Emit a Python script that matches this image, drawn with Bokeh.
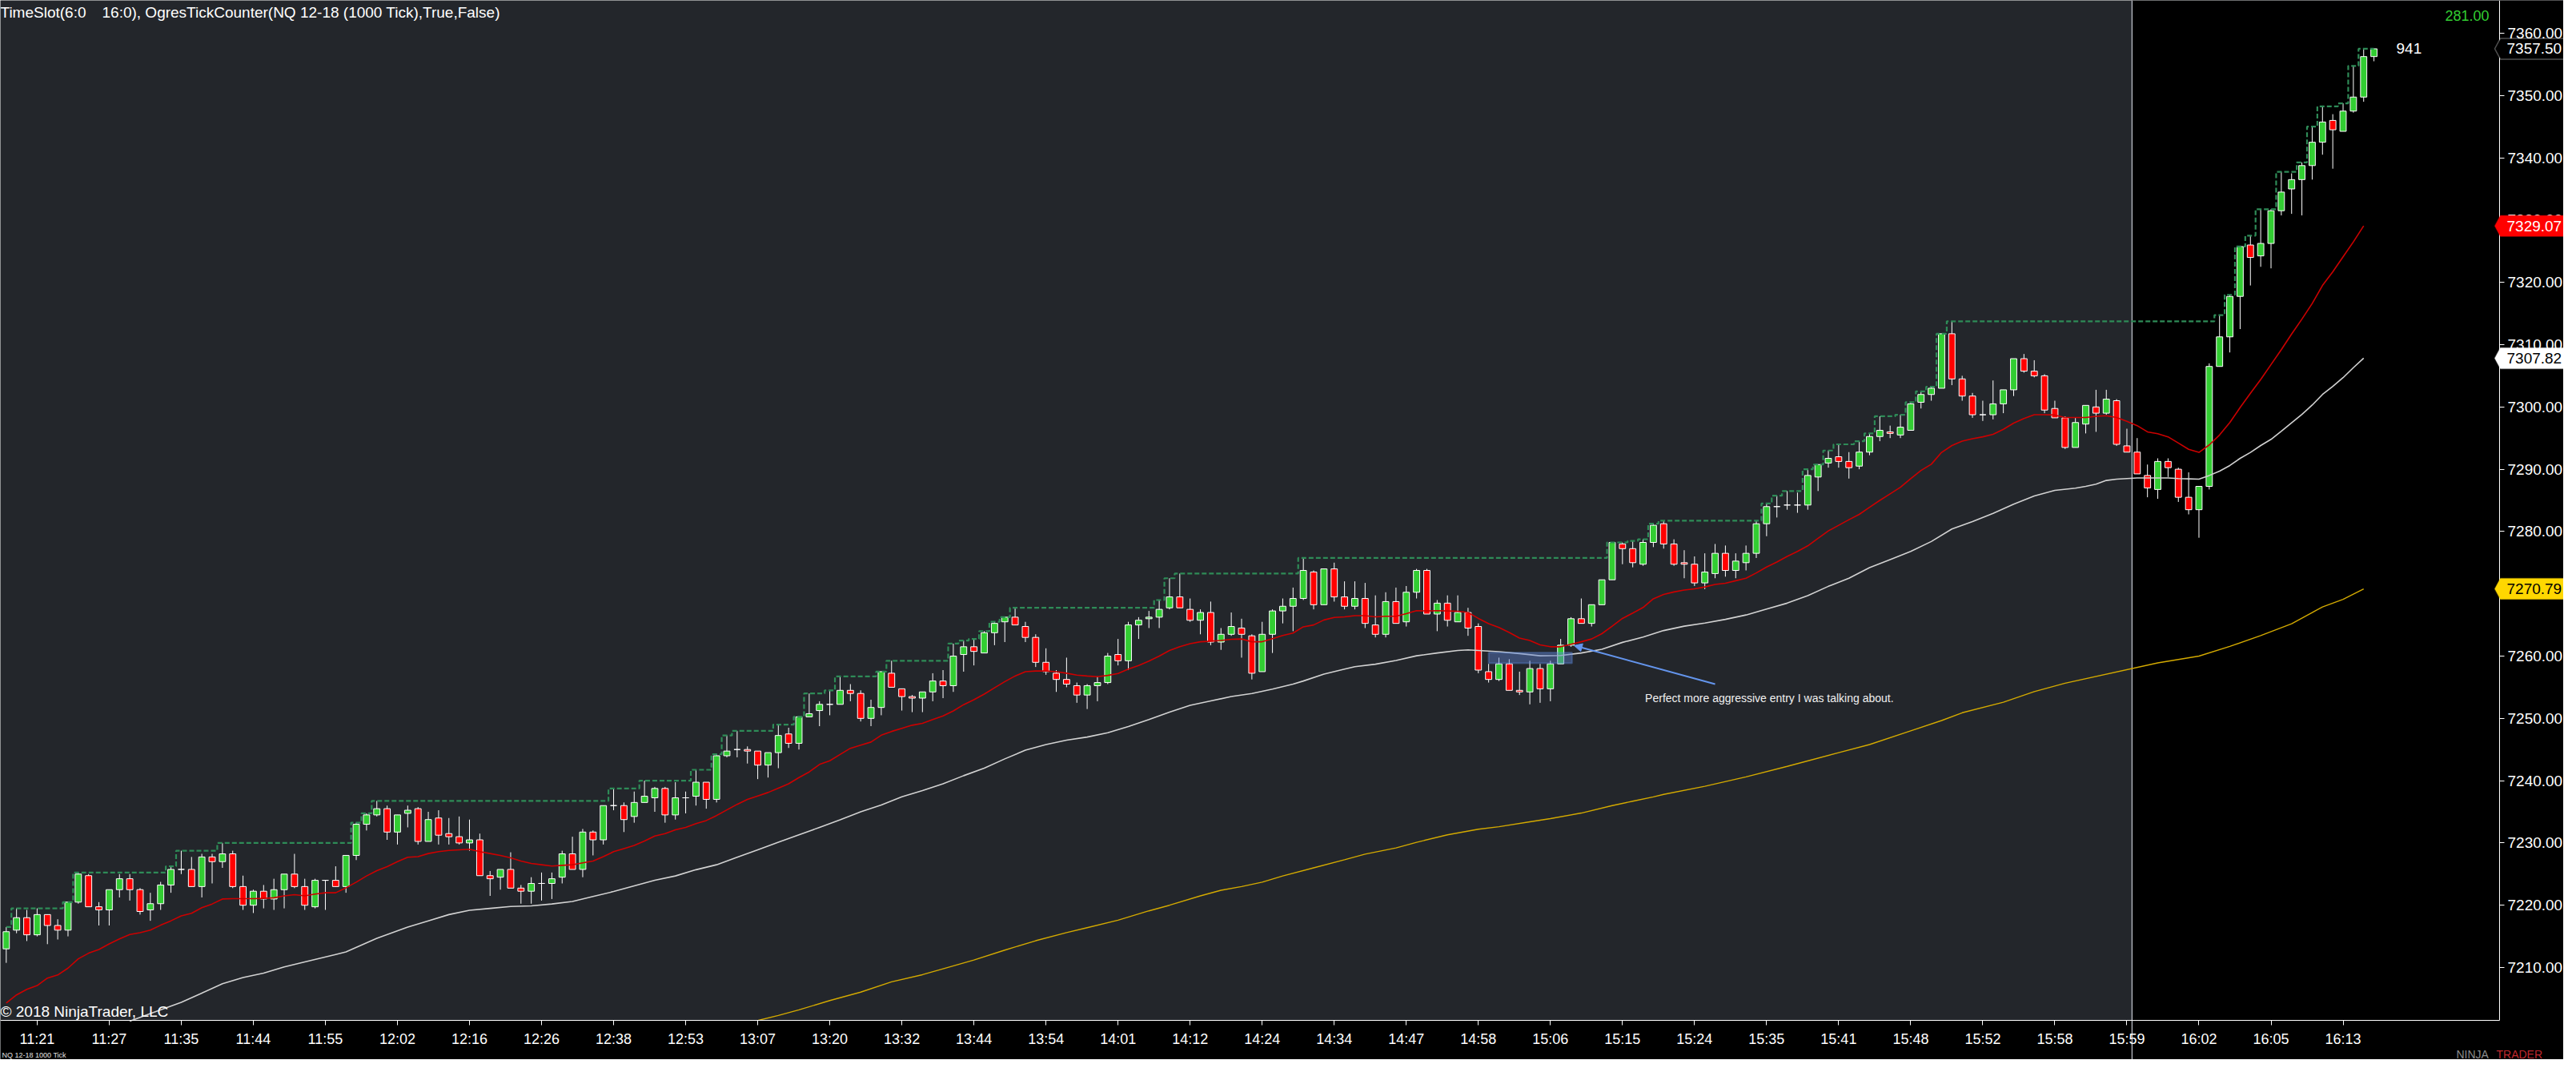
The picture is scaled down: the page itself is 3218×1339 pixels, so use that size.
import numpy as np
from bokeh.plotting import figure
from bokeh.models import (Range1d, FixedTicker, SingleIntervalTicker, NumeralTickFormatter,
                          BoxAnnotation, Label, Arrow, NormalHead, Span, PolyAnnotation,
                          ColumnDataSource)
from bokeh.embed import file_html
from bokeh.resources import INLINE

# ---------------- data (NQ 12-18, 1000 tick bars) ----------------
open_ = [
    7213.0, 7216.0, 7218.0, 7215.25, 7218.5, 7216.75, 7216.0, 7220.5, 7224.75, 7219.75,
    7219.25, 7222.5, 7224.25, 7222.5, 7219.25, 7220.25, 7223.25, 7225.75, 7225.75, 7223.0,
    7227.75, 7227.0, 7228.25, 7223.0, 7220.0, 7222.25, 7221.0, 7222.5, 7225.0, 7223.0,
    7219.75, 7224.0, 7224.0, 7223.0, 7228.0, 7233.0, 7234.5, 7235.5, 7231.75, 7234.75,
    7235.5, 7230.25, 7234.0, 7231.5, 7231.0, 7230.0, 7230.5, 7224.75, 7224.5, 7225.75,
    7222.75, 7222.25, 7223.5, 7223.5, 7224.5, 7228.25, 7225.75, 7231.75, 7230.5, 7236.0,
    7236.0, 7234.25, 7236.5, 7237.25, 7238.75, 7234.5, 7237.25, 7237.5, 7239.75, 7237.0,
    7244.0, 7245.0, 7245.0, 7244.75, 7242.5, 7244.5, 7247.5, 7246.0, 7250.25, 7251.25,
    7252.25, 7252.25, 7254.5, 7254.0, 7250.0, 7251.75, 7257.25, 7254.75, 7253.5, 7253.25,
    7254.25, 7256.0, 7255.25, 7260.25, 7261.5, 7260.5, 7263.75, 7265.5, 7266.25, 7264.75,
    7263.0, 7259.0, 7257.25, 7256.25, 7255.25, 7253.75, 7255.25, 7255.75, 7260.25, 7259.25,
    7265.0, 7266.0, 7266.25, 7267.75, 7269.5, 7267.5, 7265.75, 7267.0, 7262.25, 7263.5,
    7264.5, 7263.25, 7257.5, 7263.5, 7267.25, 7268.0, 7269.25, 7273.5, 7268.25, 7274.0,
    7269.5, 7268.0, 7269.25, 7265.0, 7263.5, 7268.75, 7265.5, 7270.25, 7273.75, 7266.75,
    7268.5, 7265.5, 7267.0, 7264.75, 7257.5, 7256.25, 7258.75, 7254.5, 7254.25, 7258.0,
    7254.75, 7258.75, 7261.75, 7266.0, 7265.25, 7268.25, 7272.25, 7278.0, 7277.25, 7274.75,
    7278.25, 7281.25, 7278.0, 7275.0, 7274.75, 7271.75, 7273.25, 7276.5, 7273.75, 7275.0,
    7276.5, 7281.25, 7284.0, 7284.25, 7284.25, 7284.25, 7288.75, 7291.0, 7292.0, 7291.25,
    7290.5, 7292.75, 7295.25, 7296.0, 7295.5, 7296.25, 7300.75, 7302.0, 7303.0, 7311.75,
    7304.5, 7301.75, 7298.75, 7298.75, 7300.5, 7302.75, 7307.75, 7305.75, 7305.0, 7299.75,
    7298.25, 7293.5, 7297.25, 7300.0, 7299.0, 7301.0, 7293.75, 7292.75, 7289.0, 7286.75,
    7291.25, 7290.0, 7285.5, 7283.5, 7287.25, 7306.5, 7311.25, 7317.75, 7326.0, 7324.25,
    7326.25, 7331.5, 7335.0, 7336.5, 7338.75, 7342.5, 7346.0, 7344.25, 7347.5, 7349.75, 7356.25,
]
high_ = [
    7216.5, 7219.5, 7219.25, 7219.5, 7218.5, 7217.75, 7220.5, 7225.25, 7225.0, 7220.5,
    7222.5, 7225.0, 7225.0, 7222.75, 7222.0, 7223.75, 7226.25, 7228.75, 7227.75, 7228.25,
    7228.25, 7230.0, 7228.75, 7224.75, 7222.5, 7223.25, 7224.25, 7225.0, 7228.25, 7224.25,
    7224.25, 7224.0, 7226.25, 7228.0, 7233.25, 7234.75, 7236.75, 7236.0, 7234.5, 7236.0,
    7235.75, 7235.0, 7235.25, 7234.0, 7234.25, 7233.75, 7231.5, 7225.5, 7225.75, 7228.5,
    7223.25, 7224.5, 7225.25, 7225.25, 7228.75, 7231.0, 7232.25, 7232.0, 7236.0, 7238.75,
    7236.5, 7238.25, 7240.0, 7239.0, 7239.0, 7239.75, 7238.25, 7241.75, 7239.75, 7244.25,
    7247.25, 7248.0, 7245.5, 7244.75, 7244.5, 7249.0, 7248.5, 7250.25, 7254.0, 7252.75,
    7254.5, 7256.75, 7255.5, 7254.5, 7253.0, 7257.5, 7259.25, 7254.75, 7253.75, 7254.25,
    7257.25, 7257.75, 7262.0, 7262.5, 7262.75, 7264.0, 7265.5, 7266.25, 7267.75, 7265.5,
    7263.5, 7261.25, 7257.75, 7259.75, 7255.75, 7255.5, 7256.75, 7260.5, 7262.75, 7265.5,
    7266.25, 7267.25, 7269.0, 7272.5, 7273.25, 7269.25, 7267.5, 7268.75, 7264.5, 7267.0,
    7266.0, 7263.5, 7265.5, 7267.5, 7269.25, 7271.0, 7275.75, 7273.75, 7274.0, 7275.0,
    7272.0, 7272.0, 7271.75, 7269.75, 7270.25, 7271.0, 7271.25, 7274.0, 7274.0, 7269.0,
    7269.75, 7269.75, 7267.75, 7265.25, 7258.75, 7259.75, 7259.5, 7257.5, 7259.25, 7258.75,
    7259.25, 7262.75, 7266.25, 7269.25, 7268.25, 7272.25, 7278.25, 7278.25, 7278.5, 7278.75,
    7281.25, 7281.75, 7278.75, 7277.0, 7276.0, 7276.5, 7278.0, 7277.75, 7276.5, 7277.75,
    7281.75, 7284.5, 7285.75, 7286.5, 7286.25, 7290.0, 7290.75, 7293.0, 7294.0, 7292.75,
    7294.5, 7295.75, 7298.5, 7297.0, 7298.75, 7300.75, 7302.5, 7303.25, 7311.75, 7313.75,
    7305.0, 7302.25, 7301.0, 7304.25, 7302.75, 7307.75, 7308.5, 7307.5, 7305.25, 7301.0,
    7298.5, 7298.25, 7300.25, 7302.75, 7302.75, 7301.25, 7296.5, 7295.0, 7290.75, 7291.75,
    7291.75, 7290.25, 7289.5, 7287.25, 7307.0, 7314.75, 7318.0, 7325.75, 7327.5, 7331.75,
    7331.75, 7337.75, 7337.5, 7339.25, 7345.0, 7348.25, 7347.0, 7348.75, 7354.75, 7357.5, 7357.5,
]
low_ = [
    7210.75, 7215.5, 7214.25, 7215.0, 7213.75, 7214.5, 7215.0, 7220.25, 7219.75, 7216.75,
    7216.75, 7221.25, 7220.75, 7218.5, 7217.5, 7219.25, 7222.0, 7225.0, 7223.0, 7221.25,
    7223.5, 7226.0, 7222.75, 7219.25, 7218.75, 7219.5, 7219.25, 7219.5, 7222.75, 7219.25,
    7219.5, 7219.25, 7223.0, 7222.0, 7227.25, 7232.0, 7234.25, 7230.5, 7229.75, 7232.5,
    7229.75, 7230.25, 7229.75, 7229.75, 7229.75, 7228.75, 7224.75, 7221.5, 7222.5, 7222.75,
    7220.25, 7220.25, 7220.75, 7221.0, 7223.5, 7225.75, 7224.5, 7228.0, 7229.75, 7235.25,
    7231.75, 7233.25, 7236.5, 7235.0, 7233.25, 7233.75, 7234.75, 7236.0, 7235.5, 7236.5,
    7243.75, 7243.75, 7242.75, 7240.25, 7240.5, 7242.0, 7245.25, 7245.0, 7250.25, 7248.75,
    7250.5, 7252.25, 7252.75, 7249.5, 7248.75, 7250.5, 7255.0, 7251.25, 7251.0, 7251.0,
    7252.75, 7253.25, 7254.25, 7257.5, 7258.5, 7260.5, 7261.75, 7262.25, 7265.0, 7262.25,
    7258.25, 7257.0, 7254.25, 7255.0, 7252.5, 7251.5, 7252.75, 7255.5, 7258.5, 7257.75,
    7262.75, 7264.5, 7264.5, 7267.5, 7267.75, 7265.5, 7263.5, 7261.75, 7261.0, 7263.25,
    7259.75, 7256.25, 7257.5, 7260.5, 7265.25, 7264.0, 7269.0, 7267.5, 7268.25, 7268.75,
    7267.5, 7267.5, 7264.5, 7263.0, 7263.0, 7265.25, 7264.75, 7269.25, 7266.75, 7264.0,
    7264.75, 7265.5, 7263.25, 7257.25, 7255.75, 7256.0, 7254.5, 7253.75, 7252.25, 7252.5,
    7252.75, 7258.75, 7261.5, 7265.25, 7264.75, 7268.25, 7272.25, 7274.75, 7274.25, 7274.5,
    7277.5, 7277.25, 7274.5, 7272.5, 7271.25, 7270.75, 7272.5, 7272.75, 7272.5, 7273.75,
    7275.75, 7279.25, 7282.25, 7283.5, 7283.0, 7283.5, 7286.5, 7290.25, 7290.25, 7288.5,
    7290.0, 7292.25, 7294.5, 7295.0, 7295.0, 7296.25, 7299.75, 7301.0, 7303.0, 7303.5,
    7301.0, 7298.25, 7297.75, 7298.0, 7299.0, 7301.75, 7305.5, 7304.75, 7299.0, 7298.25,
    7293.25, 7293.5, 7295.75, 7296.0, 7298.75, 7293.75, 7292.75, 7289.25, 7285.5, 7285.25,
    7288.75, 7284.75, 7282.75, 7279.0, 7286.75, 7306.5, 7308.75, 7312.5, 7319.5, 7322.5,
    7322.25, 7330.75, 7331.0, 7330.75, 7336.5, 7340.5, 7338.25, 7344.25, 7347.25, 7349.0, 7355.5,
]
close_ = [
    7215.75, 7218.0, 7215.25, 7218.5, 7216.75, 7216.0, 7220.5, 7225.0, 7219.75, 7219.25,
    7222.5, 7224.25, 7222.5, 7219.0, 7220.25, 7223.25, 7225.75, 7225.75, 7223.0, 7227.75,
    7227.0, 7228.25, 7223.0, 7220.0, 7222.25, 7221.0, 7222.5, 7225.0, 7223.0, 7220.0,
    7224.0, 7224.0, 7223.0, 7228.0, 7233.0, 7234.5, 7235.5, 7231.75, 7234.5, 7235.25,
    7230.25, 7233.75, 7231.25, 7231.0, 7230.0, 7230.5, 7224.75, 7224.25, 7225.75, 7222.75,
    7222.25, 7223.5, 7223.5, 7224.25, 7228.25, 7225.75, 7231.75, 7230.5, 7236.0, 7236.0,
    7233.75, 7236.5, 7237.5, 7238.75, 7234.5, 7237.25, 7237.25, 7239.75, 7237.0, 7244.0,
    7244.75, 7245.0, 7244.75, 7242.5, 7244.5, 7247.25, 7246.0, 7250.25, 7250.75, 7252.25,
    7252.25, 7254.5, 7254.0, 7250.0, 7251.75, 7257.5, 7255.0, 7253.5, 7253.25, 7254.25,
    7256.0, 7255.25, 7260.0, 7261.5, 7260.75, 7263.75, 7265.25, 7266.25, 7265.0, 7263.0,
    7259.0, 7257.5, 7256.25, 7255.5, 7253.75, 7255.25, 7255.75, 7260.0, 7259.25, 7265.0,
    7265.75, 7266.25, 7267.5, 7269.5, 7267.75, 7265.75, 7267.0, 7262.25, 7263.5, 7264.75,
    7263.5, 7257.25, 7263.5, 7267.25, 7268.0, 7269.25, 7273.75, 7268.25, 7274.0, 7269.5,
    7268.0, 7269.25, 7265.25, 7263.5, 7268.75, 7265.25, 7270.25, 7273.75, 7266.75, 7268.5,
    7265.75, 7267.0, 7264.5, 7257.75, 7256.25, 7258.75, 7254.5, 7254.25, 7258.0, 7254.75,
    7258.75, 7261.75, 7266.0, 7265.25, 7268.25, 7272.25, 7278.25, 7277.25, 7275.0, 7278.25,
    7281.0, 7278.0, 7274.75, 7274.75, 7271.75, 7273.5, 7276.5, 7273.75, 7275.25, 7276.5,
    7281.25, 7284.0, 7284.0, 7284.25, 7284.25, 7289.0, 7290.75, 7291.75, 7291.25, 7290.25,
    7292.75, 7295.25, 7296.25, 7295.75, 7296.75, 7300.5, 7302.0, 7303.0, 7311.75, 7304.5,
    7301.75, 7298.75, 7298.75, 7300.5, 7302.75, 7307.75, 7305.75, 7305.0, 7299.5, 7298.25,
    7293.5, 7297.5, 7300.25, 7299.0, 7301.25, 7294.0, 7292.75, 7289.25, 7287.0, 7291.25,
    7290.25, 7285.5, 7283.5, 7287.25, 7306.5, 7311.25, 7317.75, 7325.75, 7324.0, 7326.25,
    7331.5, 7334.5, 7336.5, 7338.75, 7342.5, 7345.75, 7344.5, 7347.5, 7349.75, 7356.25, 7357.5,
]

# fast moving average (red), one value per bar 0..229
red_ma = [
    7204.3, 7205.6, 7206.5, 7207.1, 7208.3, 7208.8, 7209.9, 7211.4, 7212.3, 7212.9,
    7213.8, 7214.6, 7215.3, 7215.6, 7216.0, 7216.8, 7217.5, 7218.3, 7218.7, 7219.6,
    7220.2, 7221.0, 7221.05, 7221.05, 7221.05, 7221.1, 7221.2, 7221.5, 7221.7, 7221.5,
    7221.8, 7222.0, 7222.0, 7222.8, 7223.7, 7224.7, 7225.55, 7226.2, 7227.0, 7227.7,
    7227.8, 7228.3, 7228.6, 7228.8, 7228.9, 7229.0, 7228.6, 7228.3, 7228.0, 7227.6,
    7227.1, 7226.7, 7226.5, 7226.3, 7226.4, 7226.5, 7226.8, 7227.1, 7227.8, 7228.6,
    7229.1, 7229.6, 7230.3, 7231.1, 7231.5, 7232.1, 7232.5, 7233.1, 7233.6, 7234.4,
    7235.3, 7236.2, 7237.0, 7237.55, 7238.1, 7238.8, 7239.5, 7240.5, 7241.4, 7242.6,
    7243.2, 7244.2, 7245.2, 7245.7, 7246.2, 7247.3, 7247.9, 7248.4, 7248.9, 7249.2,
    7249.8, 7250.4, 7251.2, 7252.2, 7253.0, 7253.9, 7254.9, 7255.9, 7256.8, 7257.5,
    7257.6, 7257.6, 7257.5, 7257.25, 7256.95, 7256.8, 7256.7, 7256.9, 7257.2, 7257.9,
    7258.5, 7259.2, 7260.0, 7260.9, 7261.5, 7262.0, 7262.3, 7262.4, 7262.5, 7262.7,
    7262.75, 7262.3, 7262.3, 7262.8, 7263.3, 7263.7, 7264.7, 7265.0, 7265.8, 7266.2,
    7266.3, 7266.5, 7266.5, 7266.3, 7266.4, 7266.4, 7266.8, 7267.3, 7267.25, 7267.3,
    7267.25, 7267.2, 7267.0, 7266.05, 7265.2, 7264.6, 7263.8, 7262.9, 7262.5, 7261.8,
    7261.5, 7261.5, 7261.9, 7262.3, 7262.75, 7263.6, 7264.8, 7266.05, 7266.9, 7267.8,
    7269.2, 7269.9, 7270.3, 7270.6, 7270.8, 7271.1, 7271.5, 7271.7, 7272.1, 7272.5,
    7273.35, 7274.3, 7275.1, 7276.0, 7276.8, 7277.7, 7278.9, 7280.1, 7281.0, 7281.9,
    7282.75, 7283.9, 7285.0, 7286.05, 7287.1, 7288.5, 7289.8, 7290.8, 7292.7, 7293.8,
    7294.5, 7294.9, 7295.2, 7295.6, 7296.4, 7297.4, 7298.15, 7298.75, 7298.75, 7298.7,
    7298.3, 7298.3, 7298.3, 7298.5, 7298.6, 7298.3, 7297.7, 7297.0, 7296.0, 7295.7,
    7295.2, 7294.2, 7293.2, 7292.7, 7293.9, 7295.5, 7297.5, 7299.9, 7302.2, 7304.4,
    7306.8, 7309.2, 7311.7, 7314.1, 7316.6, 7319.5, 7321.7, 7324.1, 7326.5, 7329.07,
]

# medium moving average (white), read at these bars
white_bar = [12, 13, 14, 17, 19, 21, 23, 25, 27, 29, 32, 33, 36, 39, 41, 43, 45, 47, 49,
             51, 53, 55, 57, 59, 61, 63, 65, 67, 69, 71, 73, 75, 77, 79, 81, 83, 85, 87, 89,
             91, 93, 95, 97, 99, 101, 103, 105, 107, 109, 111, 113, 115, 117, 119, 121, 123,
             125, 126, 128, 130, 131, 133, 135, 137, 139, 141, 142, 143, 145, 147, 149, 151,
             153, 155, 157, 159, 161, 163, 165, 167, 169, 171, 173, 175, 177, 179, 181, 183,
             185, 187, 189, 191, 193, 195, 197, 199, 201, 202, 203, 204, 205, 206, 207, 208,
             209, 210, 211, 212, 213, 214, 215, 216, 217, 218, 219, 220, 221, 222, 223, 224,
             225, 226, 227, 228, 229]
white_ma = [7201.4, 7202.0, 7202.6, 7204.4, 7205.9, 7207.4, 7208.4, 7209.1, 7210.1, 7210.9,
            7212.1, 7212.5, 7214.7, 7216.5, 7217.5, 7218.5, 7219.2, 7219.5, 7219.8,
            7219.9, 7220.2, 7220.6, 7221.4, 7222.2, 7223.1, 7224.0, 7224.7, 7225.7, 7226.5,
            7227.7, 7228.9, 7230.1, 7231.3, 7232.5, 7233.7, 7235.0, 7236.1, 7237.4, 7238.4,
            7239.5, 7240.8, 7242.0, 7243.5, 7244.9, 7245.8, 7246.5, 7247.0, 7247.7, 7248.7,
            7249.8, 7251.0, 7252.1, 7252.8, 7253.5, 7254.0, 7254.7,
            7255.5, 7256.0, 7257.1, 7257.9, 7258.3, 7258.7, 7259.3, 7260.05, 7260.5, 7260.9,
            7261.0, 7260.9, 7260.7, 7260.4, 7260.05, 7260.1,
            7260.5, 7261.1, 7262.2, 7263.05, 7264.1, 7264.8, 7265.3, 7265.9, 7266.6, 7267.55,
            7268.5, 7269.7, 7271.2, 7272.5, 7274.2, 7275.5,
            7276.8, 7278.4, 7280.4, 7281.6, 7282.9, 7284.4, 7285.7, 7286.6, 7286.95, 7287.25,
            7287.6, 7288.2, 7288.4, 7288.5, 7288.6, 7288.6,
            7288.6, 7288.6, 7288.5, 7288.45, 7288.4, 7289.0, 7289.7, 7290.6, 7291.75, 7292.7,
            7293.8, 7294.8, 7296.1, 7297.45, 7298.8, 7300.3,
            7302.0, 7303.3, 7304.7, 7306.3, 7307.82]

# slow moving average (gold), read at these bars
gold_bar = [73, 75, 77, 80, 83, 86, 89, 91, 94, 97, 100, 103, 105, 108, 111, 113, 116, 118,
            120, 122, 124, 127, 130, 132, 135, 137, 140, 143, 145, 148, 150, 153, 156, 158,
            160, 161, 165, 169, 173, 178, 181, 185, 188, 190, 194, 197, 200, 209, 213, 216,
            219, 222, 224, 225, 227, 229]
gold_ma = [7201.5, 7202.3, 7203.2, 7204.7, 7206.05, 7207.7, 7208.85, 7209.8, 7211.2, 7212.8,
           7214.3, 7215.6, 7216.4, 7217.6, 7219.1, 7220.0, 7221.5, 7222.4,
           7223.0, 7223.7, 7224.7, 7226.0, 7227.3, 7228.2, 7229.2, 7230.1, 7231.3, 7232.2,
           7232.6, 7233.4, 7233.9, 7234.8, 7236.0, 7236.7,
           7237.4, 7237.8, 7239.1, 7240.6, 7242.3, 7244.5, 7245.8, 7248.0, 7249.65, 7250.9,
           7252.6, 7254.3, 7255.65, 7258.9, 7260.0, 7261.55,
           7263.3, 7265.2, 7267.0, 7267.9, 7269.1, 7270.79]

time_labels = ["11:21", "11:27", "11:35", "11:44", "11:55", "12:02", "12:16", "12:26",
               "12:38", "12:53", "13:07", "13:20", "13:32", "13:44", "13:54", "14:01",
               "14:12", "14:24", "14:34", "14:47", "14:58", "15:06", "15:15", "15:24",
               "15:35", "15:41", "15:48", "15:52", "15:58", "15:59", "16:02", "16:05",
               "16:13"]
session_end_bar = 206.5          # bars after this are outside the 6:00-16:00 time slot
remaining_ticks = "941"
session_range = "281.00"

# annotation drawn on the chart (bar index / price)
note_box = dict(left=144.0, right=152.1, bottom=7258.85, top=7260.56)
note_arrow = dict(x_start=166.0, y_start=7255.5, x_end=152.3, y_end=7261.7)
note_text = "Perfect more aggressive entry I was talking about."
note_pos = (159.2, 7253.2)

# ---------------- helpers: reference pixel -> data coordinates ----------------
def bar_at(px):
    return (px - 15.3) / 12.86

def price_at(py):
    return 7360.0 - (py - 49.0) / 7.78

FONT = "Liberation Sans"
PRICE_AXIS_X = bar_at(3130)      # where the price scale starts
TIME_AXIS_Y = price_at(1282)     # where the time scale starts

o = np.array(open_); h = np.array(high_); l = np.array(low_); c = np.array(close_)
idx = np.arange(len(c))
color = np.where(c > o, "#32cd32", np.where(c < o, "#ff0000", "#ffffff"))
src = ColumnDataSource(dict(x=idx, h=h, l=l, top=np.maximum(o, c), bottom=np.minimum(o, c),
                            color=color))

p = figure(width=3202, height=1323,
           x_range=Range1d(bar_at(8), bar_at(3210)),
           y_range=Range1d(price_at(1331), price_at(8)),
           y_axis_location="right", output_backend="svg", toolbar_location=None,
           background_fill_color="#23262b", border_fill_color="#000000",
           outline_line_color=None, min_border=0)
p.grid.visible = False

# out-of-session area and the black scale areas
p.add_layout(BoxAnnotation(left=session_end_bar, fill_color="#000000", fill_alpha=1.0,
                           line_alpha=0, level="underlay"))
p.add_layout(BoxAnnotation(top=TIME_AXIS_Y, fill_color="#000000", fill_alpha=1.0,
                           line_alpha=0, level="underlay"))
p.add_layout(BoxAnnotation(left=PRICE_AXIS_X, fill_color="#000000", fill_alpha=1.0,
                           line_alpha=0, level="underlay"))
p.add_layout(Span(location=session_end_bar, dimension="height", line_color="#c4c8d0",
                  line_width=1.2, level="underlay"))

# candles
p.segment(x0="x", y0="l", x1="x", y1="h", source=src, line_color="#ffffff", line_width=1)
p.vbar(x="x", width=0.61, top="top", bottom="bottom", source=src, fill_color="color",
       line_color="#ffffff", line_width=1)

# moving averages
p.line(list(range(len(red_ma))), red_ma, line_color="#cc0000", line_width=1.6)
p.line(white_bar, white_ma, line_color="#d2d2d2", line_width=1.6)
p.line(gold_bar, gold_ma, line_color="#d4aa00", line_width=1.4)

# running high (dashed step)
run_high = np.maximum.accumulate(h)
p.step(idx, run_high, mode="center", line_color="#2e8b57", line_width=2.2, line_dash="6 3")

# annotation
p.add_layout(BoxAnnotation(**note_box, fill_color="#5b7fcc", fill_alpha=0.45,
                           line_color="#6495ed", line_width=2.2))
p.add_layout(Arrow(end=NormalHead(size=10, fill_color="#6495ed", line_color="#6495ed"),
                   line_color="#6495ed", line_width=2, **note_arrow))
p.add_layout(Label(x=note_pos[0], y=note_pos[1], text=note_text, text_color="#f0f0f0",
                   text_font=FONT, text_font_size="14px", text_baseline="alphabetic"))

# axes (drawn at fixed places so the whole canvas is the chart area)
yax = p.yaxis[0]
yax.fixed_location = PRICE_AXIS_X
yax.bounds = (TIME_AXIS_Y, price_at(8))
yax.ticker = SingleIntervalTicker(interval=10, num_minor_ticks=0)
yax.formatter = NumeralTickFormatter(format="0.00")
yax.axis_line_color = "#ffffff"
yax.major_tick_line_color = "#ffffff"
yax.major_tick_out = 6
yax.major_tick_in = 0
yax.minor_tick_line_color = None
yax.major_label_text_color = "#ffffff"
yax.major_label_text_font = FONT
yax.major_label_text_font_size = "19px"
yax.major_label_standoff = 4

tick_bars = [3 + 7 * k for k in range(len(time_labels))]
xax = p.xaxis[0]
xax.fixed_location = TIME_AXIS_Y
xax.bounds = (bar_at(8), PRICE_AXIS_X)
xax.ticker = FixedTicker(ticks=tick_bars)
xax.major_label_overrides = {t: s for t, s in zip(tick_bars, time_labels)}
xax.axis_line_color = "#ffffff"
xax.major_tick_line_color = "#ffffff"
xax.major_tick_out = 6
xax.major_tick_in = 0
xax.minor_tick_line_color = None
xax.major_label_text_color = "#ffffff"
xax.major_label_text_font = FONT
xax.major_label_text_font_size = "18px"
xax.major_label_standoff = 7

# price markers on the price scale
markers = [(close_[-1], "#000000", "#ffffff", "#ffffff"),
           (red_ma[-1], "#ff0000", "#ff0000", "#ffffff"),
           (white_ma[-1], "#ffffff", "#ffffff", "#000000"),
           (gold_ma[-1], "#ffd700", "#ffd700", "#000000")]
hh = 13 / 7.78
for v, bg, bd, tc in markers:
    p.add_layout(PolyAnnotation(xs=[bar_at(3124), bar_at(3131), bar_at(3217), bar_at(3217), bar_at(3131)],
                                ys=[v, v + hh, v + hh, v - hh, v - hh],
                                fill_color=bg, fill_alpha=1.0, line_color=bd, line_width=1.5))
    p.add_layout(Label(x=bar_at(3139), y=v, text=f"{v:.2f}", text_color=tc, text_font=FONT,
                       text_font_size="19px", text_baseline="middle", text_align="left"))

# texts
p.add_layout(Label(x=bar_at(8), y=price_at(23.3), text="TimeSlot(6:0", text_color="#ffffff",
                   text_font=FONT, text_font_size="19px", text_baseline="alphabetic"))
p.add_layout(Label(x=bar_at(135), y=price_at(23.3),
                   text="16:0), OgresTickCounter(NQ 12-18 (1000 Tick),True,False)",
                   text_color="#ffffff", text_font=FONT, text_font_size="19px",
                   text_baseline="alphabetic"))
p.add_layout(Label(x=bar_at(3117), y=price_at(27), text=session_range, text_color="#32cd32",
                   text_font=FONT, text_font_size="18px", text_baseline="alphabetic",
                   text_align="right"))
p.add_layout(Label(x=bar_at(3001), y=close_[-1], text=remaining_ticks, text_color="#ffffff",
                   text_font=FONT, text_font_size="19px", text_baseline="middle"))
p.add_layout(Label(x=bar_at(8), y=price_at(1270.7), text="\u00a9 2018 NinjaTrader, LLC",
                   text_color="#ffffff", text_font=FONT, text_font_size="19px",
                   text_baseline="alphabetic"))
p.add_layout(Label(x=bar_at(10), y=price_at(1325), text="NQ 12-18 1000 Tick",
                   text_color="#e0e0e0", text_font=FONT, text_font_size="9px",
                   text_baseline="alphabetic"))
p.add_layout(Label(x=bar_at(3076), y=price_at(1324), text="NINJA", text_color="#8c8c8c",
                   text_font=FONT, text_font_size="14px", text_baseline="alphabetic"))
p.add_layout(Label(x=bar_at(3126), y=price_at(1324), text="TRADER", text_color="#c0282d",
                   text_font=FONT, text_font_size="14px", text_baseline="alphabetic"))

html = file_html(p, INLINE, title="NQ 12-18 1000 Tick")
html = html.replace("<body>", '<body style="background-color:#000000;">', 1)
open("out.html", "w").write(html)
